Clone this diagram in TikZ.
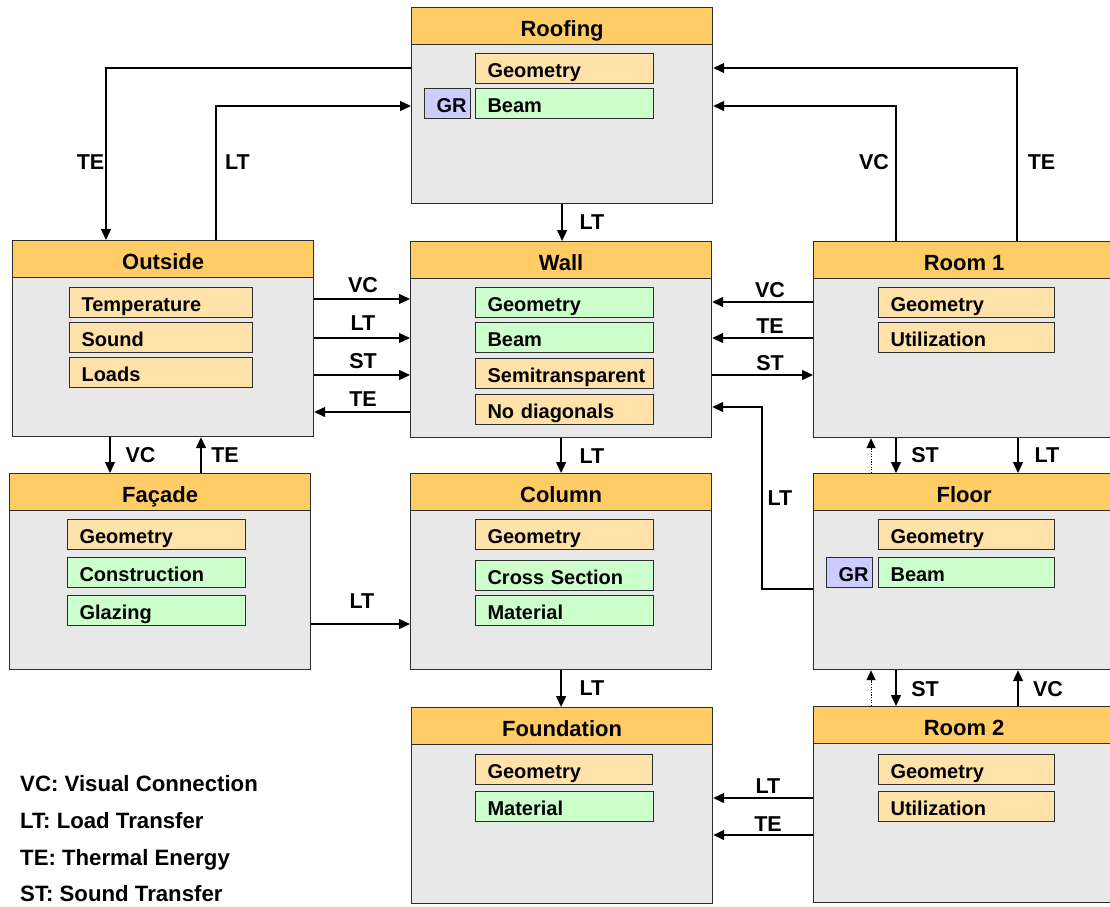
\documentclass[tikz,border=0pt]{standalone}
\usepackage{fontspec}
\setmainfont{Liberation Sans}
\usetikzlibrary{arrows.meta,calc}

\definecolor{hdrfill}{RGB}{255,204,102}
\definecolor{bodyfill}{RGB}{232,232,232}
\definecolor{attrfill}{RGB}{255,226,170}
\definecolor{partfill}{RGB}{204,255,204}
\definecolor{grfill}{RGB}{204,204,255}
\definecolor{rim}{RGB}{45,45,45}

\tikzset{
  body/.style={draw=rim, line width=1.2pt, fill=bodyfill, minimum width=301pt,
    minimum height=196pt, inner sep=0pt, anchor=north west},
  hdrbar/.style={draw=rim, line width=1.2pt, fill=hdrfill, minimum width=301pt,
    minimum height=37pt, inner sep=0pt, anchor=north west,
    font=\fontsize{22}{24}\selectfont\bfseries, text height=21pt, text depth=0pt},
  entry/.style={draw=rim, line width=1.1pt, minimum height=30pt, inner xsep=12pt,
    inner ysep=0pt, anchor=north west, text width=#1, align=left,
    font=\fontsize{20}{22}\selectfont\bfseries, text height=17.4pt, text depth=0pt},
  entry/.default=154pt,
  attr/.style={entry=#1, fill=attrfill},
  attr/.default=154pt,
  part/.style={entry=#1, fill=partfill},
  part/.default=154pt,
  grbox/.style={draw=rim, line width=1.1pt, fill=grfill, minimum height=30pt,
    inner xsep=4pt, inner ysep=0pt, text width=38pt, align=right, anchor=north west,
    font=\fontsize{20}{22}\selectfont\bfseries, text height=17.4pt, text depth=0pt},
  arr/.style={line width=1.3pt, -{Triangle[length=11pt,width=10pt]}},
  dotarr/.style={line width=1pt, dash pattern=on 1.3pt off 1.3pt,
    -{Triangle[length=10pt,width=9pt]}},
  lbl/.style={inner sep=0pt, font=\fontsize{21.5}{24}\selectfont\bfseries,
    text height=15.4pt, text depth=0pt},
  legend/.style={inner sep=0pt, anchor=west, font=\fontsize{22.2}{24}\selectfont\bfseries,
    text height=15.8pt, text depth=0pt},
}

% component box: name, left x, top y, title
\newcommand\compbox[4]{%
  \node[body] (#1) at (#2,#3) {};
  \node[hdrbar] (#1-h) at (#2,#3) {#4};
}

\begin{document}
\begin{tikzpicture}[x=1pt,y=-1pt]
\useasboundingbox (0,0) rectangle (1110,906);
\clip (0,0) rectangle (1110,906);

% ---------- components ----------
\compbox{roof}{411}{7}{Roofing}
\node[attr] (roof-geo) at (475,53) {Geometry};
\node[part] (roof-beam) at (475,88) {Beam};
\node[grbox] (roof-gr) at (424,88) {GR};

\compbox{out}{12}{240}{Outside}
\node[attr=159pt] (out-temp) at (69,287) {Temperature};
\node[attr=159pt] (out-sound) at (69,322) {Sound};
\node[attr=159pt] (out-loads) at (69,357) {Loads};

\compbox{wall}{410}{241}{Wall}
\node[part] (wall-geo) at (475,287) {Geometry};
\node[part] (wall-beam) at (475,322) {Beam};
\node[attr] (wall-semi) at (475,358) {Semitransparent};
\node[attr] (wall-nodiag) at (475,394) {No diagonals};

\compbox{room1}{813}{241}{Room 1}
\node[attr=152pt] (room1-geo) at (878,287) {Geometry};
\node[attr=152pt] (room1-use) at (878,322) {Utilization};

\compbox{fac}{9}{473}{Façade}
\node[attr] (fac-geo) at (67,519) {Geometry};
\node[part] (fac-con) at (67,557) {Construction};
\node[part] (fac-glaz) at (67,595) {Glazing};

\compbox{col}{410}{473}{Column}
\node[attr] (col-geo) at (475,519) {Geometry};
\node[part] (col-cross) at (475,560) {Cross Section};
\node[part] (col-mat) at (475,595) {Material};

\compbox{floor}{813}{473}{Floor}
\node[attr=152pt] (floor-geo) at (878,519) {Geometry};
\node[part=152pt] (floor-beam) at (878,557) {Beam};
\node[grbox] (floor-gr) at (826,557) {GR};

\compbox{fnd}{411}{707}{Foundation}
\node[attr=153pt] (fnd-geo) at (475,754) {Geometry};
\node[part] (fnd-mat) at (475,791) {Material};

\compbox{room2}{813}{706}{Room 2}
\node[attr=152pt] (room2-geo) at (878,754) {Geometry};
\node[attr=152pt] (room2-use) at (878,791) {Utilization};

% ---------- connectors ----------
% roofing
\draw[arr] (roof.west |- 0,68) -| (out.north -| 106,0);
\draw[arr] (out.north -| 216,0) |- (roof.west |- 0,106);
\draw[arr] (room1.north -| 896,0) |- (roof.east |- 0,106);
\draw[arr] (room1.north -| 1017,0) |- (roof.east |- 0,68);
\draw[arr] (roof.south) -- (roof.south |- wall.north);

% outside and wall
\draw[arr] (out.east |- 0,299) -- (wall.west |- 0,299);
\draw[arr] (out.east |- 0,338) -- (wall.west |- 0,338);
\draw[arr] (out.east |- 0,375) -- (wall.west |- 0,375);
\draw[arr] (wall.west |- 0,412) -- (out.east |- 0,412);

% room 1 and wall
\draw[arr] (room1.west |- 0,302) -- (wall.east |- 0,302);
\draw[arr] (room1.west |- 0,338) -- (wall.east |- 0,338);
\draw[arr] (wall.east |- 0,375) -- (room1.west |- 0,375);

% floor to wall
\coordinate (fw-bend) at (762,407);
\draw[arr] (floor.west |- 0,589) -| (fw-bend) -- (wall.east |- fw-bend);

% outside and facade
\draw[arr] (out.south -| 110,0) -- (fac.north -| 110,0);
\draw[arr] (fac.north -| 201,0) -- (out.south -| 201,0);

% structure chain
\draw[arr] (wall.south) -- (wall.south |- col.north);
\draw[arr] (fac.east |- 0,624) -- (col.west |- 0,624);
\draw[arr] (col.south) -- (col.south |- fnd.north);

% room 1 and floor
\draw[dotarr] (floor.north -| 871,0) -- (room1.south -| 871,0);
\draw[arr] (room1.south -| 896,0) -- (floor.north -| 896,0);
\draw[arr] (room1.south -| 1018,0) -- (floor.north -| 1018,0);

% floor and room 2
\draw[dotarr] (room2.north -| 871,0) -- (floor.south -| 871,0);
\draw[arr] (floor.south -| 896,0) -- (room2.north -| 896,0);
\draw[arr] (room2.north -| 1018,0) -- (floor.south -| 1018,0);

% room 2 to foundation
\draw[arr] (room2.west |- 0,798) -- (fnd.east |- 0,798);
\draw[arr] (room2.west |- 0,835) -- (fnd.east |- 0,835);

% ---------- connector labels ----------
\node[lbl] (l-rte) at (90.5,162) {TE};
\node[lbl] (l-rlt) at (237.5,162) {LT};
\node[lbl] (l-rvc) at (874,162) {VC};
\node[lbl] (l-rte2) at (1041.5,162) {TE};
\node[lbl] (l-rw) at (592,222) {LT};

\node[lbl] (l-ow1) at (363,285) {VC};
\node[lbl] (l-ow2) at (363,323) {LT};
\node[lbl] (l-ow3) at (363,361) {ST};
\node[lbl] (l-ow4) at (363,399) {TE};

\node[lbl] (l-rw1) at (770,290) {VC};
\node[lbl] (l-rw2) at (770,326) {TE};
\node[lbl] (l-rw3) at (770,363) {ST};

\node[lbl] (l-fw) at (780,498) {LT};

\node[lbl] (l-of1) at (140.5,455) {VC};
\node[lbl] (l-of2) at (225,455) {TE};
\node[lbl] (l-wc) at (592,456) {LT};
\node[lbl] (l-rf1) at (925,455) {ST};
\node[lbl] (l-rf2) at (1047,455) {LT};

\node[lbl] (l-fc) at (362,600.5) {LT};
\node[lbl] (l-cf) at (592,688) {LT};
\node[lbl] (l-fr1) at (925,689) {ST};
\node[lbl] (l-fr2) at (1048,689) {VC};

\node[lbl] (l-rf3) at (768,786) {LT};
\node[lbl] (l-rf4) at (768,824) {TE};

% ---------- legend ----------
\node[legend] (key-vc) at (20,784) {VC: Visual Connection};
\node[legend] (key-lt) at (20,821) {LT: Load Transfer};
\node[legend] (key-te) at (20,858) {TE: Thermal Energy};
\node[legend] (key-st) at (20,894) {ST: Sound Transfer};
\end{tikzpicture}
\end{document}
